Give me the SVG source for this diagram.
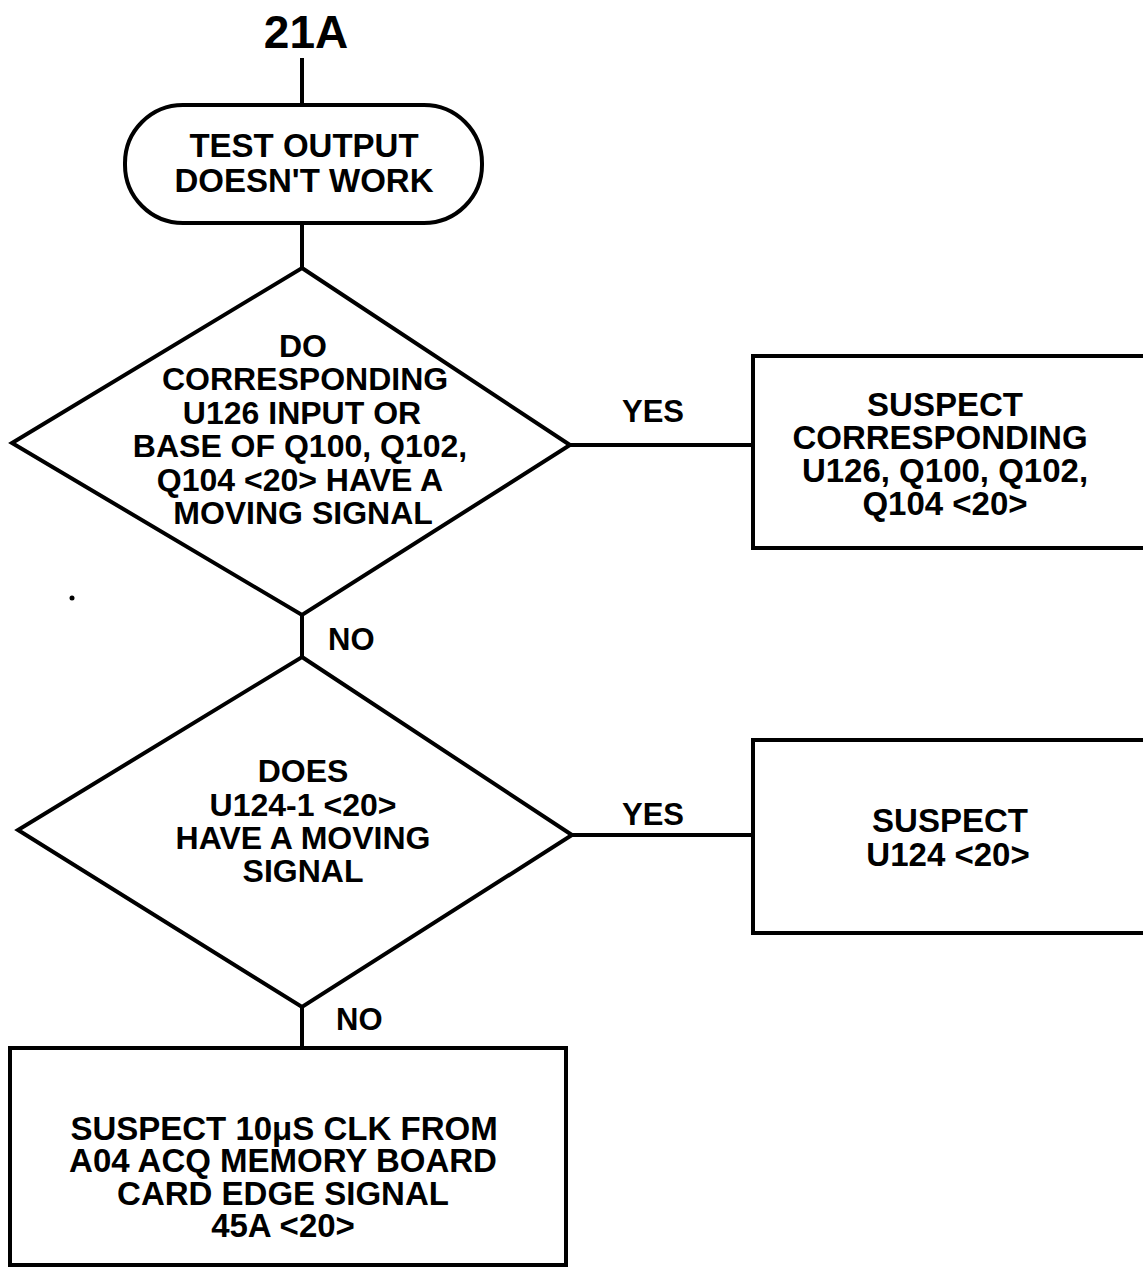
<svg xmlns="http://www.w3.org/2000/svg" width="1143" height="1268" viewBox="0 0 1143 1268">
<style>
.s{fill:none;stroke:#000;stroke-width:4;stroke-linejoin:miter}
.c{fill:none;stroke:#000;stroke-width:4}
.t{font-family:"Liberation Sans",Arial,sans-serif;font-weight:bold;font-size:32px;fill:#000;text-anchor:middle}
.l{font-family:"Liberation Sans",Arial,sans-serif;font-weight:bold;font-size:31px;fill:#000}
</style>
<rect width="1143" height="1268" fill="#fff"/>
<text x="306" y="48" class="t" style="font-size:46px">21A</text>
<g id="connectors">
<line class="c" x1="302" y1="58" x2="302" y2="105"/>
<line class="c" x1="302" y1="223" x2="302" y2="268"/>
<line class="c" x1="570" y1="445" x2="753" y2="445"/>
<line class="c" x1="302" y1="615" x2="302" y2="657"/>
<line class="c" x1="572" y1="835" x2="753" y2="835"/>
<line class="c" x1="302" y1="1007" x2="302" y2="1048"/>
<text class="l" x="622" y="422">YES</text>
<text class="l" x="328" y="650">NO</text>
<text class="l" x="622" y="825">YES</text>
<text class="l" x="336" y="1030">NO</text>
</g>
<g id="start">
<rect class="s" x="125" y="105" width="357" height="118" rx="58" ry="58"/>
<text class="t" x="304" y="157" style="font-size:33px">TEST OUTPUT</text>
<text class="t" x="304" y="192" style="font-size:33px">DOESN'T WORK</text>
</g>
<g id="decision1">
<polygon class="s" points="302,268 570,445 302,615 12,443"/>
<text class="t" x="303" y="357">DO</text>
<text class="t" x="305" y="390">CORRESPONDING</text>
<text class="t" x="302" y="424">U126 INPUT OR</text>
<text class="t" x="300" y="457">BASE OF Q100, Q102,</text>
<text class="t" x="300" y="491">Q104 &lt;20&gt; HAVE A</text>
<text class="t" x="303" y="524">MOVING SIGNAL</text>
</g>
<g id="box1">
<rect class="s" x="753" y="356" width="400" height="192"/>
<text class="t" x="945" y="416" style="font-size:33px">SUSPECT</text>
<text class="t" x="940" y="449" style="font-size:33px">CORRESPONDING</text>
<text class="t" x="945" y="482" style="font-size:33px">U126, Q100, Q102,</text>
<text class="t" x="945" y="515" style="font-size:33px">Q104 &lt;20&gt;</text>
</g>
<g id="decision2">
<polygon class="s" points="302,657 572,835 302,1007 18,830"/>
<text class="t" x="303" y="782">DOES</text>
<text class="t" x="303" y="816">U124-1 &lt;20&gt;</text>
<text class="t" x="303" y="849">HAVE A MOVING</text>
<text class="t" x="303" y="882">SIGNAL</text>
</g>
<g id="box2">
<rect class="s" x="753" y="740" width="400" height="193"/>
<text class="t" x="950" y="832" style="font-size:33px">SUSPECT</text>
<text class="t" x="948" y="866" style="font-size:33px">U124 &lt;20&gt;</text>
</g>
<g id="box3">
<rect class="s" x="10" y="1048" width="556" height="217"/>
<text class="t" x="284" y="1140" style="font-size:33px">SUSPECT 10μS CLK FROM</text>
<text class="t" x="283" y="1172" style="font-size:33px">A04 ACQ MEMORY BOARD</text>
<text class="t" x="283" y="1205" style="font-size:33px">CARD EDGE SIGNAL</text>
<text class="t" x="283" y="1237" style="font-size:33px">45A &lt;20&gt;</text>
</g>
<circle cx="72" cy="598" r="2.5" fill="#000"/>
</svg>
